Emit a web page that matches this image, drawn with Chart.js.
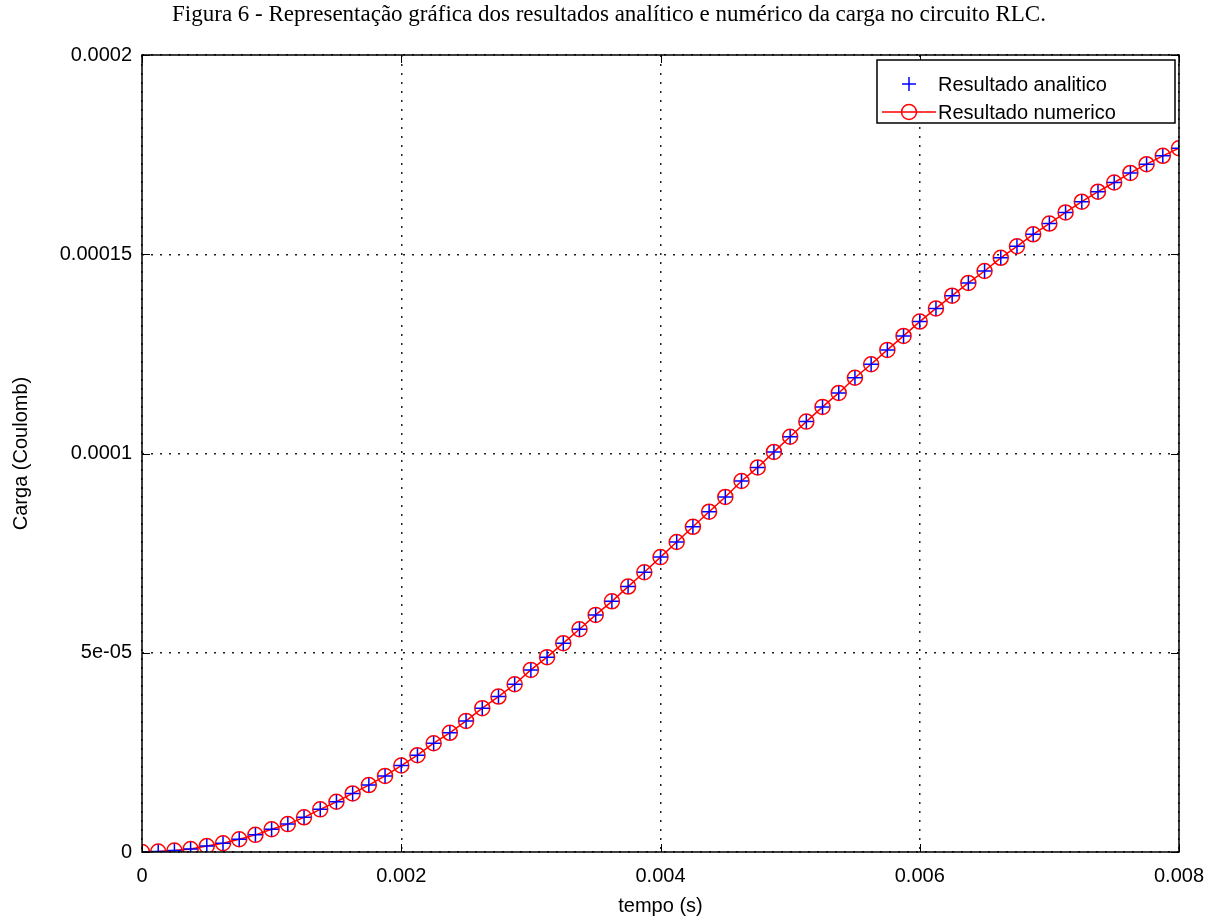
<!DOCTYPE html>
<html>
<head>
<meta charset="utf-8">
<title>Carga no circuito RLC</title>
<script src="https://cdn.jsdelivr.net/npm/chart.js@4.4.1/dist/chart.umd.min.js"></script>
<style>
    body { margin: 0; background: #fff; }
    #grafico { display: block; }
</style>
</head>
<body>
<canvas id="grafico" width="1219" height="921"></canvas>
<script>
// tempo (s), passo de 0.000125
const tempo = [
    0, 0.000125, 0.00025, 0.000375, 0.0005, 0.000625, 0.00075, 0.000875,
    0.001, 0.001125, 0.00125, 0.001375, 0.0015, 0.001625, 0.00175, 0.001875,
    0.002, 0.002125, 0.00225, 0.002375, 0.0025, 0.002625, 0.00275, 0.002875,
    0.003, 0.003125, 0.00325, 0.003375, 0.0035, 0.003625, 0.00375, 0.003875,
    0.004, 0.004125, 0.00425, 0.004375, 0.0045, 0.004625, 0.00475, 0.004875,
    0.005, 0.005125, 0.00525, 0.005375, 0.0055, 0.005625, 0.00575, 0.005875,
    0.006, 0.006125, 0.00625, 0.006375, 0.0065, 0.006625, 0.00675, 0.006875,
    0.007, 0.007125, 0.00725, 0.007375, 0.0075, 0.007625, 0.00775, 0.007875,
    0.008
];

// carga (C) - solução analítica
const cargaAnalitica = [
    0, 0.1e-6, 0.35e-6, 0.75e-6, 1.5e-6, 2.2e-6, 3.2e-6, 4.3e-6,
    5.7e-6, 7.0e-6, 8.7e-6, 10.7e-6, 12.6e-6, 14.7e-6, 16.8e-6, 19.1e-6,
    21.7e-6, 24.3e-6, 27.3e-6, 29.9e-6, 32.9e-6, 36.1e-6, 39.0e-6, 42.1e-6,
    45.7e-6, 48.9e-6, 52.4e-6, 55.9e-6, 59.5e-6, 62.9e-6, 66.6e-6, 70.2e-6,
    74.0e-6, 77.8e-6, 81.6e-6, 85.4e-6, 89.1e-6, 93.1e-6, 96.5e-6, 100.4e-6,
    104.2e-6, 108.0e-6, 111.7e-6, 115.2e-6, 119.0e-6, 122.4e-6, 126.0e-6, 129.5e-6,
    133.1e-6, 136.4e-6, 139.6e-6, 142.8e-6, 145.8e-6, 149.1e-6, 152.0e-6, 155.0e-6,
    157.7e-6, 160.5e-6, 163.2e-6, 165.7e-6, 168.0e-6, 170.4e-6, 172.6e-6, 174.7e-6,
    176.6e-6
];

// carga (C) - solução numérica
const cargaNumerica = [
    0, 0.1e-6, 0.35e-6, 0.75e-6, 1.5e-6, 2.2e-6, 3.2e-6, 4.3e-6,
    5.7e-6, 7.0e-6, 8.7e-6, 10.7e-6, 12.6e-6, 14.7e-6, 16.8e-6, 19.1e-6,
    21.7e-6, 24.3e-6, 27.3e-6, 29.9e-6, 32.9e-6, 36.1e-6, 39.0e-6, 42.1e-6,
    45.7e-6, 48.9e-6, 52.4e-6, 55.9e-6, 59.5e-6, 62.9e-6, 66.6e-6, 70.2e-6,
    74.0e-6, 77.8e-6, 81.6e-6, 85.4e-6, 89.1e-6, 93.1e-6, 96.5e-6, 100.4e-6,
    104.2e-6, 108.0e-6, 111.7e-6, 115.2e-6, 119.0e-6, 122.4e-6, 126.0e-6, 129.5e-6,
    133.1e-6, 136.4e-6, 139.6e-6, 142.8e-6, 145.8e-6, 149.1e-6, 152.0e-6, 155.0e-6,
    157.7e-6, 160.5e-6, 163.2e-6, 165.7e-6, 168.0e-6, 170.4e-6, 172.6e-6, 174.7e-6,
    176.6e-6
];

const xTicks = [0, 0.002, 0.004, 0.006, 0.008];
const xTickLabels = ['0', '0.002', '0.004', '0.006', '0.008'];
const yTicks = [0, 0.00005, 0.0001, 0.00015, 0.0002];
const yTickLabels = ['0', '5e-05', '0.0001', '0.00015', '0.0002'];

const titulo = 'Figura 6 - Representação gráfica dos resultados analítico e numérico da carga no circuito RLC.';
const legendas = ['Resultado analitico', 'Resultado numerico'];

const fonteEixos = 'Liberation Sans, Arial, sans-serif';

// titulo da figura acima do grafico
const tituloPlugin = {
    id: 'tituloFigura',
    afterDraw(chart) {
        const ctx = chart.ctx;
        ctx.save();
        ctx.fillStyle = '#000';
        ctx.font = '23px "Liberation Serif", "Times New Roman", serif';
        ctx.textAlign = 'center';
        ctx.textBaseline = 'middle';
        ctx.fillText(titulo, 609, 15);
        ctx.restore();
    }
};

// moldura do grafico e marcas de escala para dentro (estilo octave)
const molduraPlugin = {
    id: 'moldura',
    afterDatasetsDraw(chart) {
        const ctx = chart.ctx;
        const a = chart.chartArea;
        const sx = chart.scales.x;
        const sy = chart.scales.y;
        const tam = 8;
        ctx.save();
        ctx.strokeStyle = '#000';
        ctx.lineWidth = 1.5;
        ctx.strokeRect(a.left, a.top, a.right - a.left, a.bottom - a.top);
        ctx.lineWidth = 1;
        ctx.beginPath();
        xTicks.forEach(v => {
            const px = Math.round(sx.getPixelForValue(v)) + 0.5;
            ctx.moveTo(px, a.bottom); ctx.lineTo(px, a.bottom - tam);
            ctx.moveTo(px, a.top); ctx.lineTo(px, a.top + tam);
        });
        yTicks.forEach(v => {
            const py = Math.round(sy.getPixelForValue(v)) + 0.5;
            ctx.moveTo(a.left, py); ctx.lineTo(a.left + tam, py);
            ctx.moveTo(a.right, py); ctx.lineTo(a.right - tam, py);
        });
        ctx.stroke();
        ctx.restore();
    }
};

// legenda no canto superior direito
const legendaPlugin = {
    id: 'legendaCaixa',
    afterDraw(chart) {
        const ctx = chart.ctx;
        const ds = chart.data.datasets;
        const x0 = 877, y0 = 60, w = 298, h = 63;
        ctx.save();
        ctx.fillStyle = '#fff';
        ctx.fillRect(x0, y0, w, h);
        ctx.strokeStyle = '#000';
        ctx.lineWidth = 1.5;
        ctx.strokeRect(x0, y0, w, h);

        // + azul
        const mx = 909;
        let y = 84;
        ctx.strokeStyle = ds[0].borderColor;
        ctx.lineWidth = 1.5;
        ctx.beginPath();
        ctx.moveTo(mx - 7, y); ctx.lineTo(mx + 7, y);
        ctx.moveTo(mx, y - 7); ctx.lineTo(mx, y + 7);
        ctx.stroke();

        // linha vermelha com circulo
        y = 112;
        ctx.strokeStyle = ds[1].borderColor;
        ctx.lineWidth = 1.5;
        ctx.beginPath();
        ctx.moveTo(882, y); ctx.lineTo(936, y);
        ctx.stroke();
        ctx.beginPath();
        ctx.arc(mx, y, 7.5, 0, Math.PI * 2);
        ctx.stroke();

        ctx.fillStyle = '#000';
        ctx.font = '20px ' + fonteEixos;
        ctx.textAlign = 'left';
        ctx.textBaseline = 'middle';
        ctx.fillText(legendas[0], 938, 85);
        ctx.fillText(legendas[1], 938, 113);
        ctx.restore();
    }
};

const ctx = document.getElementById('grafico').getContext('2d');
new Chart(ctx, {
    type: 'line',
    data: {
        datasets: [{
            label: legendas[0],
            data: tempo.map((t, i) => ({ x: t, y: cargaAnalitica[i] })),
            showLine: false,
            pointStyle: 'cross',
            pointRadius: 7,
            pointBorderWidth: 1.5,
            borderColor: '#0000ff',
            backgroundColor: '#0000ff'
        }, {
            label: legendas[1],
            data: tempo.map((t, i) => ({ x: t, y: cargaNumerica[i] })),
            borderColor: '#ff0000',
            borderWidth: 1.5,
            pointStyle: 'circle',
            pointRadius: 7.5,
            pointBorderWidth: 1.5,
            pointBackgroundColor: 'rgba(0,0,0,0)',
            pointBorderColor: '#ff0000',
            tension: 0
        }]
    },
    options: {
        responsive: false,
        animation: false,
        events: [],
        layout: { padding: { top: 55, right: 40, left: 0, bottom: 0 } },
        plugins: {
            legend: { display: false },
            tooltip: { enabled: false }
        },
        scales: {
            x: {
                type: 'linear',
                min: 0,
                max: 0.008,
                afterFit: s => { s.height = 69; },
                afterBuildTicks: s => { s.ticks = xTicks.map(v => ({ value: v })); },
                grid: { color: '#222', lineWidth: 1.5, drawTicks: false },
                border: { display: false, dash: [2, 7] },
                ticks: {
                    color: '#000',
                    padding: 12,
                    maxRotation: 0,
                    font: { family: fonteEixos, size: 20 },
                    callback: (v, i) => xTickLabels[i]
                },
                title: {
                    display: true,
                    text: 'tempo (s)',
                    color: '#000',
                    font: { family: fonteEixos, size: 20 },
                    padding: { top: 0, bottom: 3 }
                }
            },
            y: {
                type: 'linear',
                min: 0,
                max: 0.0002,
                afterFit: s => { s.width = 142; },
                afterBuildTicks: s => { s.ticks = yTicks.map(v => ({ value: v })); },
                grid: { color: '#222', lineWidth: 1.5, drawTicks: false },
                border: { display: false, dash: [2, 7] },
                ticks: {
                    color: '#000',
                    padding: 10,
                    font: { family: fonteEixos, size: 20 },
                    callback: (v, i) => yTickLabels[i]
                },
                title: {
                    display: true,
                    text: 'Carga (Coulomb)',
                    color: '#000',
                    font: { family: fonteEixos, size: 20 },
                    padding: { top: 9, bottom: 0 }
                }
            }
        }
    },
    plugins: [molduraPlugin, legendaPlugin, tituloPlugin]
});
</script>
</body>
</html>
